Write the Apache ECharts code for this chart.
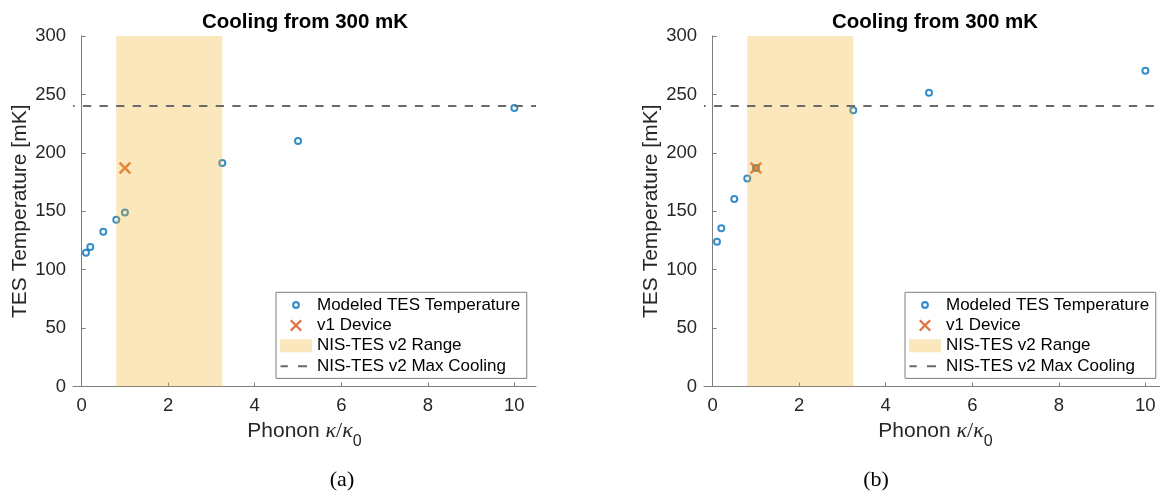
<!DOCTYPE html>
<html>
<head>
<meta charset="utf-8">
<script src="https://cdn.jsdelivr.net/npm/echarts@6/dist/echarts.min.js"></script>
<style>
  html, body { margin: 0; padding: 0; background: #ffffff; }
  #chart { width: 1160px; height: 496px; }
</style>
</head>
<body>
<div id="chart"></div>
<script>
// Phonon conductance ratios kappa/kappa0 at which the model was evaluated
const kappaRatio = [0.1, 0.2, 0.5, 0.8, 1, 3.25, 5, 10];
// Modeled TES temperature [mK] for panel (a) and panel (b)
const tesTempA = [114.5, 119.4, 132.5, 142.7, 149, 191.4, 210.2, 238.4];
const tesTempB = [124, 135.5, 160.5, 178, 187, 236.5, 251.5, 270.3];
// Measured v1 device
const v1Kappa = [1];
const v1Temp = [187];
// NIS-TES v2 conductance range and its maximum cooling temperature
const v2Range = [0.8, 3.25];
const v2RangeTop = 300;
const v2MaxCooling = 240;
// Axis ticks and limits
const xTicks = [0, 2, 4, 6, 8, 10];
const xLimits = [-0.2, 10.5];
const yLimits = [0, 300];
const yStep = 50;
// Text
const panelTitles = ['Cooling from 300 mK', 'Cooling from 300 mK'];
const panelCaptions = ['(a)', '(b)'];
const seriesNames = ['Modeled TES Temperature', 'v1 Device', 'NIS-TES v2 Range', 'NIS-TES v2 Max Cooling'];

const BLUE = '#0072BD';
const ORANGE = '#D95319';
const SHADE = 'rgba(237,177,32,0.3)';
const DASH = '#6a6a6a';
const AXIS = '#7f7f7f';
const TEXT = '#262626';
const SANS = 'Liberation Sans, Arial, Helvetica, sans-serif';
const SERIF = 'Liberation Serif, Times New Roman, serif';

// "x" marker outline: a filled cross centred on (cx, cy)
function crossPath(cx, cy, s, t) {
  const p = [
    [-s, -s + t], [-s + t, -s], [0, -t], [s - t, -s], [s, -s + t], [t, 0],
    [s, s - t], [s - t, s], [0, t], [-s + t, s], [-s, s - t], [-t, 0]
  ];
  return p.map((q, i) => (i ? 'L' : 'M') + (cx + q[0]).toFixed(2) + ',' + (cy + q[1]).toFixed(2)).join('') + 'Z';
}

// Legend icons share one 32x14 box so they are drawn at their true size
const BOX = 'M0,0M32,14';
const iconRing = 'path://' + BOX +
  'M19.9,7A3.9,3.9,0,1,1,12.1,7A3.9,3.9,0,1,1,19.9,7Z' +
  'M17.8,7A1.8,1.8,0,1,0,14.2,7A1.8,1.8,0,1,0,17.8,7Z';
const iconCross = 'path://' + BOX + crossPath(16, 7, 6, 1.6);
const iconRect = 'path://' + BOX + 'M0,0.5L32,0.5L32,13.5L0,13.5Z';
const iconDash = 'path://' + BOX + 'M0.5,6L7.8,6L7.8,8L0.5,8ZM18,6L27,6L27,8L18,8Z';
const crossSymbol = 'path://' + crossPath(5, 5, 5, 1.45);

const panels = [
  { temps: tesTempA, grid: { left: 73, top: 36, width: 463, height: 350.5 },
    titleX: 305, captionX: 342, legendLeft: 276 },
  { temps: tesTempB, grid: { left: 704, top: 36, width: 463, height: 350.5 },
    titleX: 935, captionX: 876, legendLeft: 905 }
];

const xName = '{a|Phonon }{k|κ}{r|/}{k|κ}{s|0}';

const option = {
  backgroundColor: '#ffffff',
  animation: false,
  title: [],
  legend: [],
  grid: [],
  xAxis: [],
  yAxis: [],
  series: []
};

panels.forEach((pan, i) => {
  option.grid.push(Object.assign({ outerBoundsMode: 'none', containLabel: false }, pan.grid));

  option.title.push({
    text: panelTitles[i],
    left: pan.titleX, top: 12, padding: 0, textAlign: 'center',
    textStyle: { fontFamily: SANS, fontSize: 20.5, fontWeight: 'bold', color: '#000' }
  });
  option.title.push({
    text: panelCaptions[i],
    left: pan.captionX, top: 469, padding: 0, textAlign: 'center',
    textStyle: { fontFamily: SERIF, fontSize: 22, fontWeight: 'normal', color: '#000' }
  });

  option.xAxis.push({
    type: 'value', gridIndex: i, min: xLimits[0], max: xLimits[1],
    axisLine: { show: true, onZero: false, lineStyle: { color: AXIS, width: 1 } },
    axisTick: { show: true, inside: true, length: 4, customValues: xTicks, lineStyle: { color: AXIS } },
    axisLabel: { customValues: xTicks, fontFamily: SANS, fontSize: 18.5, color: TEXT, margin: 10 },
    splitLine: { show: false },
    name: xName, nameLocation: 'middle', nameGap: 34,
    nameTextStyle: {
      rich: {
        a: { fontFamily: SANS, fontSize: 21, color: TEXT, lineHeight: 22, verticalAlign: 'top' },
        k: { fontFamily: SERIF, fontStyle: 'italic', fontSize: 22, color: TEXT, lineHeight: 22, verticalAlign: 'top' },
        r: { fontFamily: SERIF, fontSize: 22, color: TEXT, lineHeight: 22, verticalAlign: 'top' },
        s: { fontFamily: SANS, fontSize: 16, color: TEXT, lineHeight: 16, verticalAlign: 'top', padding: [13, 0, 0, 0] }
      }
    }
  });

  option.yAxis.push({
    type: 'value', gridIndex: i, min: yLimits[0], max: yLimits[1], interval: yStep,
    axisLine: { show: true, lineStyle: { color: AXIS, width: 1 } },
    axisTick: { show: true, inside: true, length: 4, lineStyle: { color: AXIS } },
    axisLabel: { fontFamily: SANS, fontSize: 18.5, color: TEXT, margin: 7 },
    splitLine: { show: false },
    name: 'TES Temperature [mK]', nameLocation: 'middle', nameGap: 42,
    nameTextStyle: { fontFamily: SANS, fontSize: 21, color: TEXT }
  });

  // modeled temperatures
  option.series.push({
    name: seriesNames[0], type: 'scatter', xAxisIndex: i, yAxisIndex: i, z: 2,
    symbol: 'emptyCircle', symbolSize: 6,
    itemStyle: { color: BLUE, borderWidth: 2 },
    data: kappaRatio.map((k, j) => [k, pan.temps[j]])
  });
  // v1 device
  option.series.push({
    name: seriesNames[1], type: 'scatter', xAxisIndex: i, yAxisIndex: i, z: 3,
    symbol: crossSymbol, symbolSize: 12.5,
    itemStyle: { color: ORANGE },
    data: v1Kappa.map((k, j) => [k, v1Temp[j]])
  });
  // v2 range band, drawn over the markers
  option.series.push({
    name: seriesNames[2], type: 'line', xAxisIndex: i, yAxisIndex: i, z: 4,
    showSymbol: false, silent: true,
    lineStyle: { width: 0, opacity: 0 },
    areaStyle: { color: SHADE, origin: 'start', opacity: 1 },
    itemStyle: { color: SHADE },
    data: v2Range.map(k => [k, v2RangeTop])
  });
  // v2 maximum cooling level
  option.series.push({
    name: seriesNames[3], type: 'line', xAxisIndex: i, yAxisIndex: i, z: 5,
    showSymbol: false, silent: true,
    lineStyle: { color: DASH, width: 2, type: [8.3, 8.3], dashOffset: 6.7 },
    itemStyle: { color: DASH },
    data: xLimits.map(k => [k, v2MaxCooling])
  });

  option.legend.push({
    orient: 'vertical',
    left: pan.legendLeft, top: 292.3,
    padding: [4.2, 6.6, 3.7, 4],
    itemWidth: 32, itemHeight: 14, itemGap: 3.4,
    backgroundColor: '#ffffff',
    borderColor: AXIS, borderWidth: 1, borderRadius: 0,
    selectedMode: false,
    symbolKeepAspect: true,
    textStyle: { fontFamily: SANS, fontSize: 17, color: '#000', lineHeight: 14 },
    data: [
      { name: seriesNames[0], icon: iconRing, itemStyle: { color: BLUE, borderWidth: 0 } },
      { name: seriesNames[1], icon: iconCross, itemStyle: { color: ORANGE, borderWidth: 0 } },
      { name: seriesNames[2], icon: iconRect, itemStyle: { color: SHADE, borderWidth: 0 } },
      { name: seriesNames[3], icon: iconDash, itemStyle: { color: DASH, borderWidth: 0 } }
    ]
  });
});

const chart = echarts.init(document.getElementById('chart'), null, { renderer: 'canvas' });
chart.setOption(option);
</script>
</body>
</html>
